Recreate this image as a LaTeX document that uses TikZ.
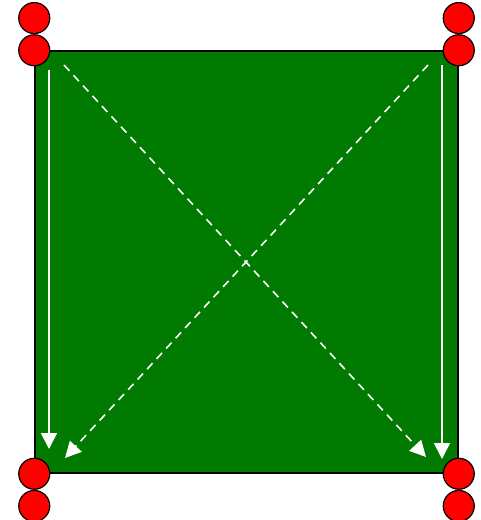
\documentclass[tikz,border=0pt]{standalone}
\usetikzlibrary{arrows.meta, positioning}
\definecolor{padred}{RGB}{255,0,0}
\definecolor{plategreen}{RGB}{0,122,0}
\tikzset{
  pad/.style={circle, draw=black, fill=padred, minimum size=31pt,
    inner sep=0pt, line width=1.2pt},
  plate/.style={rectangle, draw=black, fill=plategreen, minimum width=423pt,
    minimum height=422pt, inner sep=0pt, line width=1.5pt},
  flow/.style={-{Triangle[length=16pt,width=16pt]}, color=white, line width=1.6pt},
  crossflow/.style={flow, dash pattern=on 8pt off 6pt}
}

\begin{document}
\begin{tikzpicture}[x=1pt, y=-1pt]
  \useasboundingbox (0,0) rectangle (481,520);

  \node[plate] (plate) at (246.5,262) {};

  \node[pad] (tl)  at (plate.north west) {};
  \node[pad] (tr)  at (plate.north east) {};
  \node[pad] (bl)  at (plate.south west) {};
  \node[pad] (br)  at (plate.south east) {};
  \node[pad, above=0pt of tl] (tlup) {};
  \node[pad, above=0pt of tr] (trup) {};
  \node[pad, below=0pt of bl] (bldn) {};
  \node[pad, below=0pt of br] (brdn) {};

  \coordinate (lstart) at (49,70);
  \coordinate (lend)   at (49,449);
  \coordinate (rstart) at (442,65);
  \coordinate (rend)   at (442,459);
  \coordinate (dlstart) at (64,65);
  \coordinate (dlend)   at (426,457);
  \coordinate (drstart) at (428,65);
  \coordinate (drend)   at (65,458);

  \draw[flow] (lstart) -- (lend);
  \draw[flow] (rstart) -- (rend);
  \draw[crossflow] (dlstart) -- (dlend);
  \draw[crossflow] (drstart) -- (drend);
\end{tikzpicture}
\end{document}
